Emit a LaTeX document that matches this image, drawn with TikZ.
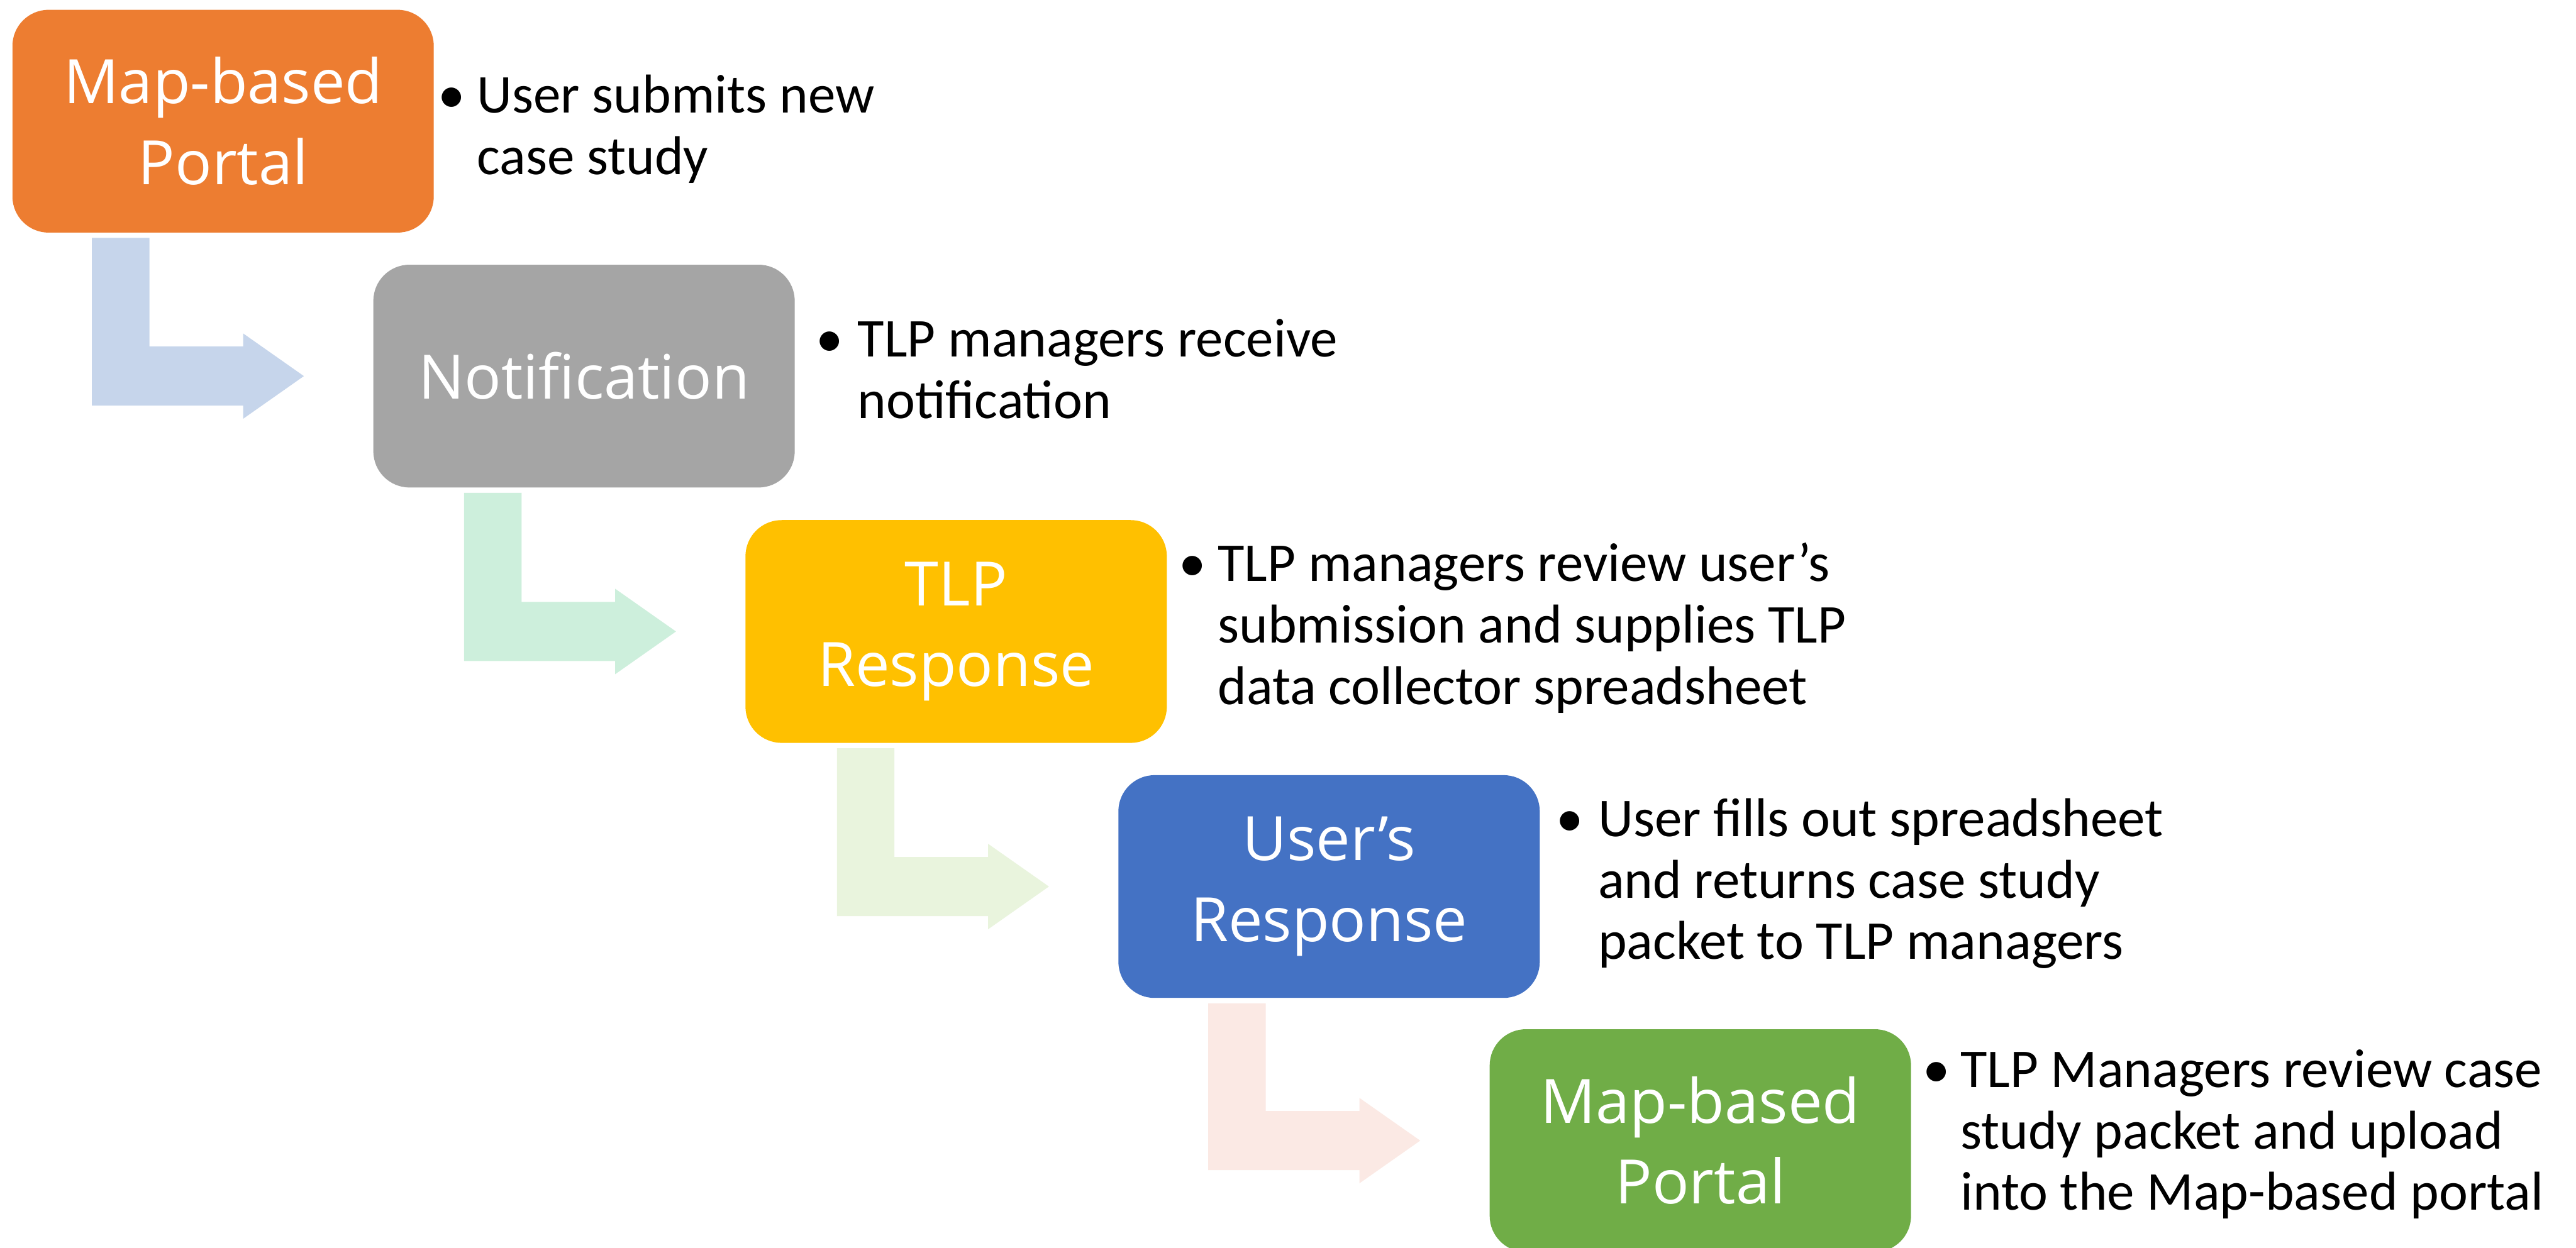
\documentclass[tikz,border=0pt]{standalone}
\usepackage{fontspec}
\setmainfont{Carlito}
\newfontfamily\boxfont{Open Sans}
\usetikzlibrary{calc}
\definecolor{cOrange}{HTML}{ED7D31}
\definecolor{cGray}{HTML}{A5A5A5}
\definecolor{cYellow}{HTML}{FFC000}
\definecolor{cBlue}{HTML}{4472C4}
\definecolor{cGreen}{HTML}{70AD47}
\definecolor{aBlue}{HTML}{C6D5EB}
\definecolor{aMint}{HTML}{CDEFDC}
\definecolor{aLime}{HTML}{E9F4DD}
\definecolor{aPink}{HTML}{FBE9E4}
% bent arrow from the bottom of #1 to the west side of #2, colour #3
\newcommand\bentarrow[3]{%
  \fill[#3] let \p1=(#1.south), \p2=(#2.west) in
    ({\x2-121.64pt},{\y1-2.13pt}) -- ({\x2-96.74pt},{\y1-2.13pt})
    -- ({\x2-96.74pt},{\y2+12.80pt}) -- ({\x2-56.19pt},{\y2+12.80pt})
    -- ({\x2-56.19pt},{\y2+18.49pt}) -- ({\x2-29.88pt},{\y2})
    -- ({\x2-56.19pt},{\y2-18.49pt}) -- ({\x2-56.19pt},{\y2-12.80pt})
    -- ({\x2-121.64pt},{\y2-12.80pt}) -- cycle;}
\begin{document}
\begin{tikzpicture}[x=0.025cm,y=-0.025cm,
  stage/.style={rounded corners=0.55cm, minimum width=6.41cm, minimum height=3.39cm,
    inner sep=0pt, align=center, text=white,
    font=\boxfont\fontsize{26.5}{35}\selectfont},
  desc/.style={anchor=base west, inner sep=0pt, text=black,
    font=\fontsize{23.7}{26.6}\selectfont},
  dot/.style={anchor=base, inner sep=0pt, text=black,
    font=\fontsize{23.7}{26.6}\selectfont}]
\useasboundingbox[fill=white] (0,0) rectangle (1568,759.66);

\node[stage, fill=cOrange] (b1) at (135.8,73.8)  {Map-based\\Portal};
\node[stage, fill=cGray]   (b2) at (355.5,229)   {Notification};
\node[stage, fill=cYellow] (b3) at (582,384.5)   {TLP\\Response};
\node[stage, fill=cBlue]   (b4) at (809,539.8)   {User’s\\Response};
\node[stage, fill=cGreen]  (b5) at (1035,694.5)  {Map-based\\Portal};

\bentarrow{b1}{b2}{aBlue}
\bentarrow{b2}{b3}{aMint}
\bentarrow{b3}{b4}{aLime}
\bentarrow{b4}{b5}{aPink}

\node[dot] (p1) at (275,68.7) {•};
\node[desc] (d1) at (290,68.7)
  {\begin{tabular}[t]{@{}l@{}}User submits new\\case study\end{tabular}};
\node[dot] (p2) at (505,217.2) {•};
\node[desc] (d2) at (521.8,217.2)
  {\begin{tabular}[t]{@{}l@{}}TLP managers receive\\notification\end{tabular}};
\node[dot] (p3) at (726,354) {•};
\node[desc] (d3) at (741,354)
  {\begin{tabular}[t]{@{}l@{}}TLP managers review user’s\\submission and supplies TLP\\data collector spreadsheet\end{tabular}};
\node[dot] (p4) at (955.5,509.3) {•};
\node[desc] (d4) at (972.5,509.3)
  {\begin{tabular}[t]{@{}l@{}}User fills out spreadsheet\\and returns case study\\packet to TLP managers\end{tabular}};
\node[dot] (p5) at (1178.7,662) {•};
\node[desc] (d5) at (1193,662)
  {\begin{tabular}[t]{@{}l@{}}TLP Managers review case\\study packet and upload\\into the Map-based portal\end{tabular}};
\end{tikzpicture}
\end{document}
